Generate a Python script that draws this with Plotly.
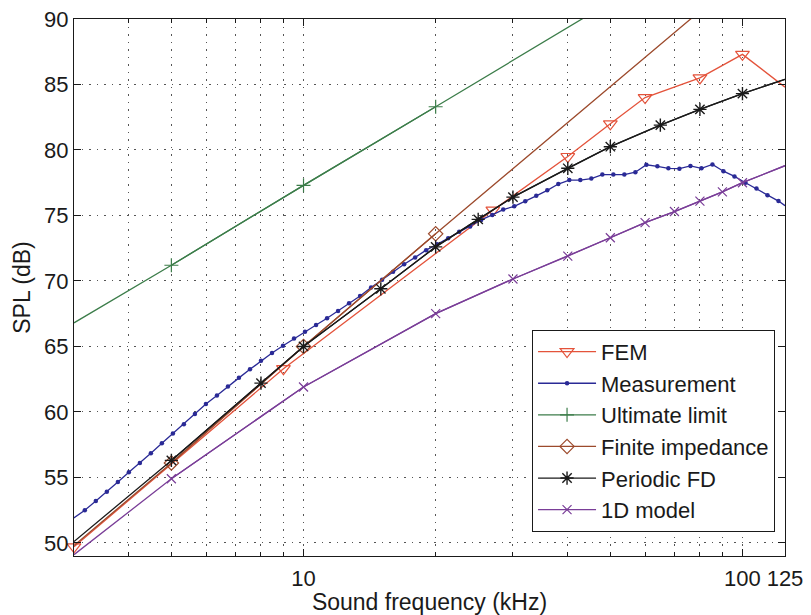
import plotly.graph_objects as go

# ---------------- data ----------------
fem_f = [3, 9, 27, 40, 50, 60, 80, 100, 125]
fem_spl = [49.7, 63.3, 75.4, 79.5, 82.0, 84.0, 85.5, 87.3, 84.8]

meas_f = [2.997, 3.175, 3.364, 3.564, 3.776, 4.000, 4.238, 4.490, 4.757, 5.040,
          5.339, 5.657, 5.993, 6.350, 6.727, 7.127, 7.551, 8.000, 8.476, 8.980,
          9.514, 10.079, 10.679, 11.314, 11.986, 12.699, 13.454, 14.254, 15.102, 16.000,
          16.951, 17.959, 19.027, 20.159, 21.357, 22.627, 23.973, 25.398, 26.909, 28.509,
          30.204, 32.000, 33.903, 35.919, 38.055, 40.317, 42.715, 45.255, 47.946, 50.797,
          53.817, 57.018, 60.408, 64.000, 67.806, 71.838, 76.109, 80.635, 85.430, 90.510,
          95.893, 101.594, 107.635, 114.035, 120.816, 125.0]
meas_spl = [51.9, 52.5, 53.2, 53.9, 54.65, 55.4, 56.1, 56.85, 57.6, 58.35,
            59.05, 59.85, 60.6, 61.25, 61.95, 62.6, 63.25, 63.9, 64.5, 65.05,
            65.6, 66.13, 66.64, 67.15, 67.7, 68.3, 68.85, 69.5, 70.1, 70.7,
            71.27, 71.8, 72.35, 72.8, 73.26, 73.75, 74.15, 74.66, 75.04, 75.45,
            75.7, 76.08, 76.5, 76.92, 77.4, 77.7, 77.7, 77.82, 78.12, 78.12,
            78.12, 78.3, 78.87, 78.75, 78.6, 78.57, 78.78, 78.6, 78.9, 78.38,
            77.98, 77.5, 77.05, 76.55, 76.1, 75.75]

ul_f = [3, 5, 10, 20, 50]
ul_spl = [66.8, 71.2, 77.3, 83.3, 91.3]
ul_marked = [False, True, True, True, False]

fi_f = [3, 5, 10, 20, 80]
fi_spl = [49.8, 56.1, 65.0, 73.6, 90.6]
fi_marked = [False, True, True, True, False]

pfd_f = [3, 5, 8, 10, 15, 20, 25, 30, 40, 50, 65, 80, 100, 125]
pfd_spl = [50.1, 56.3, 62.2, 65.0, 69.4, 72.6, 74.7, 76.4, 78.6, 80.25, 81.9, 83.1, 84.3, 85.4]
pfd_marked = [False] + [True] * 13

od_f = [3, 5, 10, 20, 30, 40, 50, 60, 70, 80, 90, 100, 125]
od_spl = [49.1, 54.9, 61.9, 67.5, 70.15, 71.9, 73.3, 74.45, 75.3, 76.1, 76.8, 77.5, 78.8]
od_marked = [False] + [True] * 12

x_tickvals = [10, 100, 125]
x_ticktext = ["10", "100", "125"]
x_minor = [4, 5, 6, 7, 8, 9, 20, 30, 40, 50, 60, 70, 80, 90]
y_tickvals = [50, 55, 60, 65, 70, 75, 80, 85, 90]

# ---------------- styling ----------------
FONT = "Liberation Sans, Arial, Helvetica, sans-serif"
C_FEM = "#E4533B"
C_MEAS = "#2A2A96"
C_UL = "#3C7D4A"
C_FI = "#9C4A2C"
C_PFD = "#1A1A1A"
C_OD = "#7A3E98"
LW = 1.3
GRID = dict(gridcolor="#555555", gridwidth=1, griddash="1.5px,6px")

fig = go.Figure()


def add_series(name, f, spl, marked, color, symbol, size, mlw=1.2):
    if marked is not None and not all(marked):
        fig.add_trace(go.Scatter(x=f, y=spl, mode="lines",
                                 line=dict(color=color, width=LW),
                                 showlegend=False, hoverinfo="skip"))
        mf = [a for a, m in zip(f, marked) if m]
        ms = [b for b, m in zip(spl, marked) if m]
    else:
        mf, ms = f, spl
    fig.add_trace(go.Scatter(
        x=mf, y=ms, name=name, mode="lines+markers", cliponaxis=False,
        line=dict(color=color, width=LW),
        marker=dict(symbol=symbol, size=size, color=color,
                    line=dict(color=color, width=mlw))))


add_series("FEM", fem_f, fem_spl, None, C_FEM, "triangle-down-open", 12)
add_series("Measurement", meas_f, meas_spl, None, C_MEAS, "circle", 4.5, 0)
add_series("Ultimate limit", ul_f, ul_spl, ul_marked, C_UL, "cross-thin-open", 10)
add_series("Finite impedance", fi_f, fi_spl, fi_marked, C_FI, "diamond-open", 11)
add_series("Periodic FD", pfd_f, pfd_spl, pfd_marked, C_PFD, "asterisk-open", 11, 1.4)
add_series("1D model", od_f, od_spl, od_marked, C_OD, "x-thin-open", 9)

# The page body keeps its default 8px margin, so the figure is sized and
# placed to land the axes box at x 74..785, y 19..556 of the 811x615 window.
fig.update_layout(
    width=803, height=607,
    margin=dict(l=66, r=26, t=11, b=59, autoexpand=False),
    paper_bgcolor="white", plot_bgcolor="white",
    font=dict(family=FONT, size=22, color="#1a1a1a"),
    showlegend=True,
    legend=dict(
        x=0.986, y=0.045, xanchor="right", yanchor="bottom",
        bgcolor="white", bordercolor="#1a1a1a", borderwidth=1,
        font=dict(family=FONT, size=22, color="#1a1a1a"),
        itemwidth=58, tracegroupgap=0,
    ),
    xaxis=dict(
        type="log", range=[0.47712, 2.09691], automargin=False,
        tickmode="array", tickvals=x_tickvals, ticktext=x_ticktext,
        ticks="inside", ticklen=7, tickwidth=1, tickcolor="#1a1a1a",
        showline=True, linecolor="#1a1a1a", linewidth=1.2, mirror="allticks",
        showgrid=True, **GRID, zeroline=False,
        ticklabelstandoff=2, ticklabeloverflow="allow",
        minor=dict(tickvals=x_minor, ticks="inside", ticklen=4, tickcolor="#1a1a1a",
                   showgrid=True, **GRID),
        title=dict(text="Sound frequency (kHz)", font=dict(size=23), standoff=0),
    ),
    yaxis=dict(
        range=[49, 90], automargin=False,
        tickmode="array", tickvals=y_tickvals,
        ticks="inside", ticklen=7, tickwidth=1, tickcolor="#1a1a1a",
        showline=True, linecolor="#1a1a1a", linewidth=1.2, mirror="allticks",
        showgrid=True, **GRID, zeroline=False,
        ticklabeloverflow="allow",
        title=dict(text="SPL (dB)", font=dict(size=23), standoff=6),
    ),
)

fig.write_html("out.html")
